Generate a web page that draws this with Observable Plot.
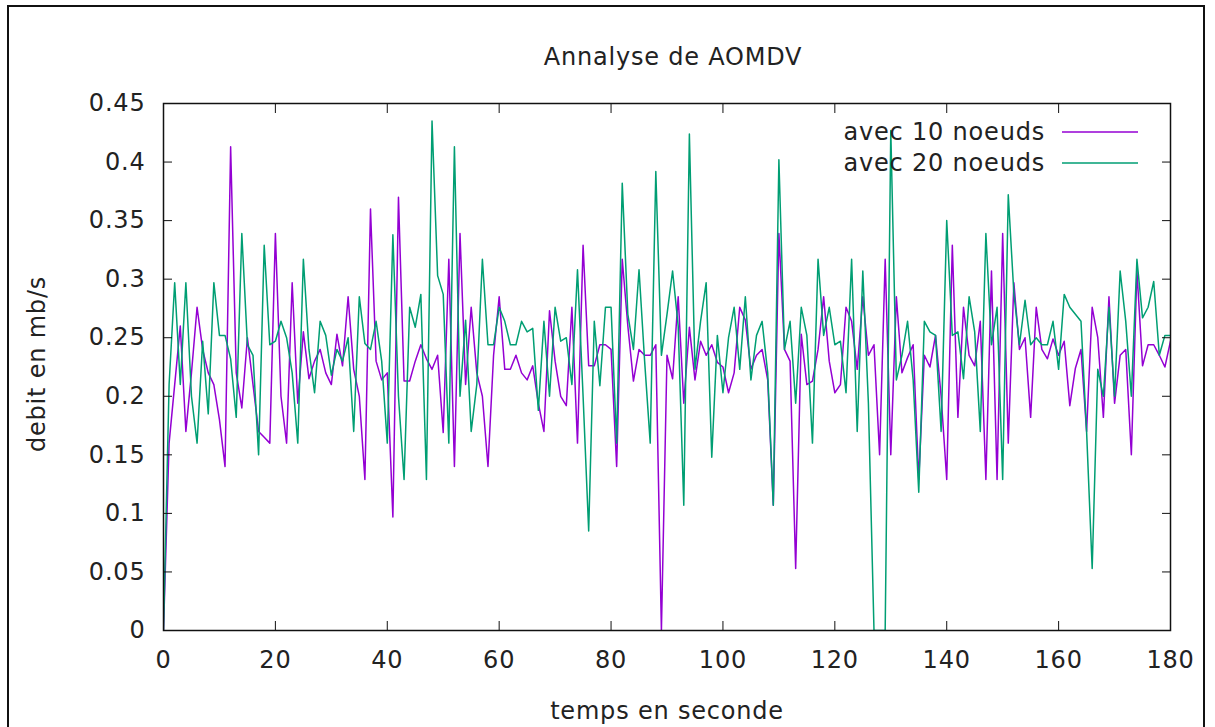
<!DOCTYPE html>
<html>
<head>
<meta charset="utf-8">
<script src="https://cdn.jsdelivr.net/npm/d3@7"></script>
<script src="https://cdn.jsdelivr.net/npm/@observablehq/plot@0.6"></script>
<style>
  html, body { margin: 0; padding: 0; background: #fff; overflow: hidden; }
  #wrap { position: relative; width: 1215px; height: 727px; }
  #border { position: absolute; left: 7px; top: 5px; width: 1198px; height: 760px; border: 2px solid #111; box-sizing: border-box; pointer-events: none; }
  #chart { position: absolute; left: 0; top: 0; }
  #chart text { letter-spacing: 0.8px; }
</style>
</head>
<body>
<div id="wrap"><div id="chart"></div><div id="border"></div></div>
<script>
const title = "Annalyse de AOMDV";
const xTitle = "temps en seconde";
const yTitle = "debit en mb/s";
const seriesNames = ["avec 10 noeuds", "avec 20 noeuds"];
const seriesColors = ["#9400d3", "#009e73"];
const xTicks = [0, 20, 40, 60, 80, 100, 120, 140, 160, 180];
const yTicks = [0, 0.05, 0.1, 0.15, 0.2, 0.25, 0.3, 0.35, 0.4, 0.45];

// debit (mb/s) per second, t = 0..180
const noeuds10 = [
  0, 0.16, 0.21, 0.26, 0.17, 0.22, 0.276, 0.24, 0.22, 0.21,
  0.18, 0.14, 0.413, 0.22, 0.19, 0.25, 0.21, 0.17, 0.165, 0.16,
  0.339, 0.2, 0.16, 0.297, 0.194, 0.255, 0.215, 0.23, 0.24, 0.22,
  0.21, 0.253, 0.226, 0.285, 0.223, 0.2, 0.129, 0.36, 0.23, 0.214,
  0.22, 0.097, 0.37, 0.213, 0.213, 0.23, 0.244, 0.232, 0.223, 0.235,
  0.169, 0.317, 0.14, 0.339, 0.21, 0.276, 0.22, 0.2, 0.14, 0.235,
  0.285, 0.223, 0.223, 0.235, 0.22, 0.214, 0.226, 0.194, 0.17, 0.273,
  0.23, 0.2, 0.192, 0.276, 0.16, 0.329, 0.226, 0.226, 0.244, 0.244,
  0.24, 0.14, 0.317, 0.26, 0.213, 0.24, 0.235, 0.235, 0.244, 0,
  0.235, 0.215, 0.285, 0.194, 0.259, 0.214, 0.247, 0.235, 0.244, 0.229,
  0.225, 0.203, 0.22, 0.276, 0.265, 0.223, 0.235, 0.24, 0.214, 0.107,
  0.339, 0.24, 0.23, 0.053, 0.253, 0.21, 0.213, 0.24, 0.285, 0.23,
  0.203, 0.21, 0.276, 0.264, 0.223, 0.285, 0.235, 0.244, 0.15, 0.317,
  0.15, 0.285, 0.22, 0.233, 0.244, 0.129, 0.235, 0.225, 0.252, 0.2,
  0.129, 0.329, 0.182, 0.276, 0.235, 0.226, 0.264, 0.129, 0.307, 0.129,
  0.339, 0.16, 0.297, 0.24, 0.25, 0.182, 0.276, 0.24, 0.232, 0.249,
  0.235, 0.247, 0.192, 0.224, 0.24, 0.17, 0.276, 0.25, 0.182, 0.285,
  0.194, 0.235, 0.24, 0.15, 0.307, 0.226, 0.244, 0.244, 0.235, 0.225,
  0.247
];
const noeuds20 = [
  0, 0.21, 0.297, 0.21, 0.297, 0.2, 0.16, 0.247, 0.185, 0.297,
  0.252, 0.252, 0.232, 0.182, 0.339, 0.244, 0.235, 0.15, 0.329, 0.244,
  0.247, 0.264, 0.25, 0.22, 0.16, 0.317, 0.24, 0.203, 0.264, 0.252,
  0.218, 0.24, 0.23, 0.25, 0.17, 0.285, 0.245, 0.24, 0.264, 0.23,
  0.16, 0.338, 0.2, 0.129, 0.276, 0.259, 0.287, 0.129, 0.435, 0.303,
  0.287, 0.16, 0.413, 0.2, 0.265, 0.17, 0.21, 0.317, 0.244, 0.244,
  0.276, 0.264, 0.244, 0.244, 0.264, 0.255, 0.258, 0.188, 0.264, 0.2,
  0.276, 0.247, 0.25, 0.21, 0.308, 0.2, 0.085, 0.264, 0.209, 0.276,
  0.276, 0.16, 0.382, 0.27, 0.24, 0.308, 0.23, 0.16, 0.392, 0.235,
  0.27, 0.307, 0.26, 0.107, 0.424, 0.223, 0.264, 0.297, 0.148, 0.252,
  0.203, 0.25, 0.276, 0.223, 0.285, 0.214, 0.252, 0.264, 0.22, 0.107,
  0.402, 0.24, 0.264, 0.194, 0.276, 0.252, 0.16, 0.317, 0.252, 0.276,
  0.244, 0.247, 0.203, 0.317, 0.17, 0.307, 0.194, 0, 0, 0,
  0.427, 0.214, 0.235, 0.264, 0.214, 0.118, 0.264, 0.255, 0.252, 0.17,
  0.35, 0.252, 0.255, 0.215, 0.285, 0.255, 0.17, 0.339, 0.244, 0.276,
  0.129, 0.372, 0.288, 0.244, 0.282, 0.244, 0.25, 0.244, 0.244, 0.264,
  0.223, 0.287, 0.276, 0.27, 0.264, 0.17, 0.053, 0.223, 0.2, 0.276,
  0.2, 0.307, 0.264, 0.2, 0.317, 0.267, 0.276, 0.298, 0.235, 0.252,
  0.252
];

const series = [noeuds10, noeuds20];
const rows = [];
series.forEach((vals, si) => vals.forEach((v, i) => rows.push({t: i, v, s: seriesNames[si]})));

const FONT = "DejaVu Sans, sans-serif";
const FS = 24;
const W = 1215, H = 727;
const mL = 163, mR = W - 1170, mT = 103, mB = H - 630;
const fmt = d => String(+d.toFixed(2));

const plot = Plot.plot({
  width: W, height: H,
  marginLeft: mL, marginRight: mR, marginTop: mT, marginBottom: mB,
  style: {fontFamily: FONT, fontSize: FS + "px", color: "#222", background: "#fff"},
  x: {domain: [0, 180]},
  y: {domain: [0, 0.45]},
  color: {domain: seriesNames, range: seriesColors},
  marks: [
    Plot.line(rows.filter(d => d.s === seriesNames[0]), {x: "t", y: "v", stroke: seriesColors[0], strokeWidth: 1.5, clip: true}),
    Plot.line(rows.filter(d => d.s === seriesNames[1]), {x: "t", y: "v", stroke: seriesColors[1], strokeWidth: 1.5, clip: true}),
    Plot.axisX({anchor: "bottom", ticks: xTicks, tickSize: -9, tickFormat: () => "", label: null, stroke: "#111"}),
    Plot.axisX({anchor: "top", ticks: xTicks, tickSize: -9, tickFormat: () => "", label: null, stroke: "#111"}),
    Plot.axisY({anchor: "left", ticks: yTicks, tickSize: -9, tickFormat: () => "", label: null, stroke: "#111"}),
    Plot.axisY({anchor: "right", ticks: yTicks, tickSize: -9, tickFormat: () => "", label: null, stroke: "#111"}),
    Plot.axisX({anchor: "bottom", ticks: xTicks, tickSize: 0, tickPadding: 20, tickFormat: fmt, label: null, fontSize: FS, fill: "#222"}),
    Plot.axisY({anchor: "left", ticks: yTicks, tickSize: 0, tickPadding: 18, tickFormat: fmt, label: null, fontSize: FS, fill: "#222"}),
    Plot.frame({stroke: "#111", strokeWidth: 1.5})
  ]
});

document.getElementById("chart").appendChild(plot);

const svg = d3.select(plot);
const txt = (x, y, s, anchor, rot) => {
  const t = svg.append("text").attr("x", x).attr("y", y).attr("text-anchor", anchor)
    .attr("dominant-baseline", "central").attr("font-family", FONT).attr("font-size", FS)
    .attr("fill", "#222").text(s);
  if (rot) t.attr("transform", `rotate(${rot},${x},${y})`);
  return t;
};
txt(673, 57, title, "middle");
txt(667, 711, xTitle, "middle");
txt(37, 364, yTitle, "middle", -90);
// legend
const legY = [132, 163];
seriesNames.forEach((n, i) => {
  txt(1045, legY[i], n, "end");
  svg.append("line").attr("x1", 1062).attr("x2", 1138).attr("y1", legY[i]).attr("y2", legY[i])
    .attr("stroke", seriesColors[i]).attr("stroke-width", 1.5);
});
</script>
</body>
</html>
